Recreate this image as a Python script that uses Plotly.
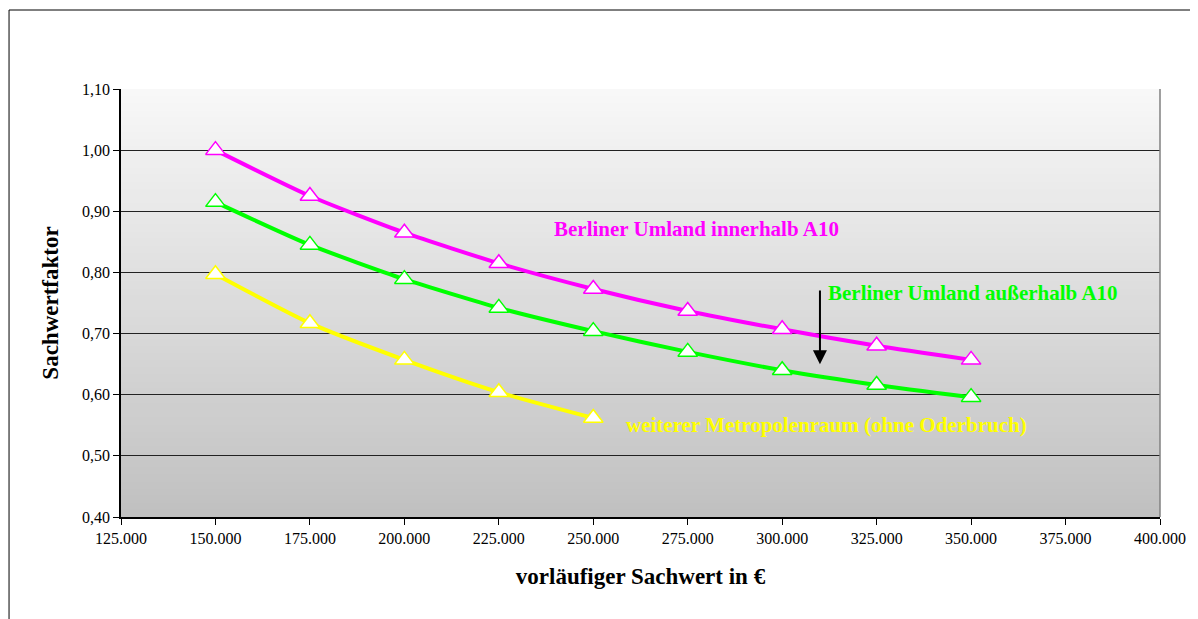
import plotly.graph_objects as go

x_values = [150000, 175000, 200000, 225000, 250000, 275000, 300000, 325000, 350000]
innerhalb = [1.00, 0.925, 0.865, 0.815, 0.773, 0.737, 0.707, 0.680, 0.657]
ausserhalb = [0.915, 0.845, 0.789, 0.742, 0.704, 0.670, 0.640, 0.616, 0.596]
x_weiterer = [150000, 175000, 200000, 225000, 250000]
weiterer = [0.797, 0.717, 0.657, 0.604, 0.562]

x_ticks = [125000, 150000, 175000, 200000, 225000, 250000, 275000, 300000, 325000, 350000, 375000, 400000]
x_ticklabels = ["125.000", "150.000", "175.000", "200.000", "225.000", "250.000",
                "275.000", "300.000", "325.000", "350.000", "375.000", "400.000"]
y_ticks = [0.40, 0.50, 0.60, 0.70, 0.80, 0.90, 1.00, 1.10]
y_ticklabels = ["0,40", "0,50", "0,60", "0,70", "0,80", "0,90", "1,00", "1,10"]

FONT = "Liberation Serif"
W, H = 1190, 611
L, R, T, B = 113, 33, 81, 102
PW, PH = W - L - R, H - T - B

fig = go.Figure()

def add_series(xs, ys, color, name):
    fig.add_trace(go.Scatter(
        x=xs, y=ys, name=name, mode="lines+markers",
        line=dict(color=color, width=4, shape="spline", smoothing=0.6),
        marker=dict(symbol="triangle-up", size=17, color="white",
                    line=dict(color=color, width=1.5)),
        showlegend=False,
    ))

add_series(x_values, innerhalb, "#FF00FF", "Berliner Umland innerhalb A10")
add_series(x_values, ausserhalb, "#00FF00", "Berliner Umland außerhalb A10")
add_series(x_weiterer, weiterer, "#FFFF00", "weiterer Metropolenraum (ohne Oderbruch)")

# gradient background bands
shapes = []
n = 60
top = (0xF8, 0xF8, 0xF8)
bot = (0xC0, 0xC0, 0xC0)
for i in range(n):
    t = (i + 0.5) / n
    c = tuple(int(round(top[k] + (bot[k] - top[k]) * t)) for k in range(3))
    shapes.append(dict(type="rect", xref="x domain", yref="y domain",
                       x0=0, x1=1, y0=max(0, 1 - (i + 1) / n - 0.004), y1=1 - i / n,
                       fillcolor="rgb(%d,%d,%d)" % c, line=dict(width=0), layer="below"))
# right border of plot area
shapes.append(dict(type="line", xref="x domain", yref="y domain", x0=1, x1=1, y0=0, y1=1,
                   line=dict(color="#808080", width=1.5)))
# outer chart border
shapes.append(dict(type="rect", xref="paper", yref="paper",
                   x0=(0.5 - L) / PW, x1=2, y0=-2, y1=(H - B - 2) / PH,
                   line=dict(color="#000000", width=1), fillcolor="rgba(0,0,0,0)"))

annotations = [
    dict(x=239000, y=0.871, text="<b>Berliner Umland innerhalb A10</b>", showarrow=False,
         xanchor="left", yanchor="middle", font=dict(family=FONT, size=21, color="#FF00FF")),
    dict(x=311500, y=0.766, text="<b>Berliner Umland außerhalb A10</b>", showarrow=False,
         xanchor="left", yanchor="middle", font=dict(family=FONT, size=21, color="#00FF00")),
    dict(x=258000, y=0.550, text="<b>weiterer Metropolenraum (ohne Oderbruch)</b>", showarrow=False,
         xanchor="left", yanchor="middle", font=dict(family=FONT, size=21, color="#FFFF00")),
    dict(x=310000, y=0.650, ax=310000, ay=0.773, axref="x", ayref="y", text="",
         showarrow=True, arrowhead=2, arrowsize=1.4, arrowwidth=2, arrowcolor="#000000"),
]

fig.update_layout(
    width=W, height=H,
    margin=dict(l=L, r=R, t=T, b=B),
    paper_bgcolor="white", plot_bgcolor="#c8c8c8",
    shapes=shapes, annotations=annotations,
    font=dict(family=FONT, color="#000000"),
    xaxis=dict(range=[125000, 400000], tickvals=x_ticks, ticktext=x_ticklabels,
               showgrid=False, zeroline=False, showline=True, linecolor="#000000", linewidth=1.5,
               ticks="outside", ticklen=6, tickcolor="#000000",
               tickfont=dict(family=FONT, size=16, color="#000000"),
               title=dict(text="<b>vorläufiger Sachwert in €</b>", standoff=22,
                          font=dict(family=FONT, size=23, color="#000000"))),
    yaxis=dict(range=[0.40, 1.10], tickvals=y_ticks, ticktext=y_ticklabels,
               showgrid=True, gridcolor="#222222", gridwidth=1, zeroline=False,
               showline=True, linecolor="#000000", linewidth=1.5,
               ticks="outside", ticklen=6, tickcolor="#000000",
               tickfont=dict(family=FONT, size=16, color="#000000"),
               title=dict(text="<b>Sachwertfaktor</b>", standoff=17,
                          font=dict(family=FONT, size=23, color="#000000"))),
)

fig.write_html("out.html")
